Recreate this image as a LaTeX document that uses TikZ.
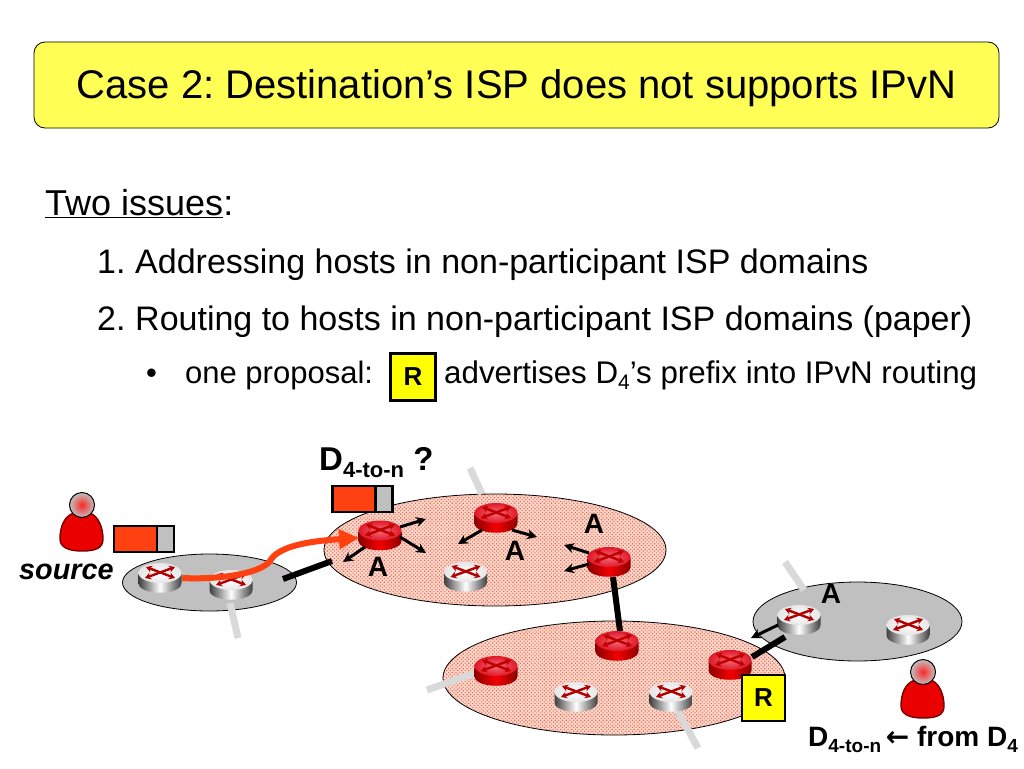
\documentclass[tikz,border=0pt]{standalone}
\usepackage{fontspec}
\setmainfont{Liberation Sans}
\newfontfamily\arw{DejaVu Sans}
\usetikzlibrary{shapes.geometric,arrows.meta,patterns.meta}
\frenchspacing
\definecolor{titleyellow}{HTML}{FFFF55}
\definecolor{rboxyellow}{HTML}{FFFF00}
\definecolor{stubgray}{HTML}{D9D9D9}
\definecolor{netgray}{HTML}{C0C0C0}
\definecolor{pktorange}{HTML}{FF4010}
\definecolor{dotred}{HTML}{E86850}
\definecolor{dotbase}{HTML}{FAD8CC}
\definecolor{rtop}{HTML}{E01828}
\definecolor{rtopin}{HTML}{F46A78}
\newcommand\fs[1]{\fontsize{#1}{#1}\selectfont}
\newcommand\subD[1]{D\raisebox{-0.22em}{\fs{#1}4-to-n}}
\tikzset{
  x=1pt,y=-1pt,
  txt/.style={anchor=base west,inner sep=0pt,text=black},
  netpink/.style={ellipse,inner sep=0pt,draw=black,line width=0.8pt,
    preaction={fill=dotbase},
    pattern={Dots[radius=0.8pt,distance=2.6pt,angle=45,xshift=0pt]},pattern color=dotred},
  netgrey/.style={ellipse,inner sep=0pt,draw=black,line width=0.8pt,fill=netgray},
  stub/.style={line width=7pt,stubgray},
  link/.style={line width=6pt,black},
  adv/.style={line width=3pt,-{Stealth[length=10pt,width=10pt]},black},
  letter/.style={inner sep=0pt,font=\fs{28}\bfseries},
  rbox/.style={draw=black,line width=2.6pt,fill=rboxyellow,inner sep=0pt,font=\fs{26}\bfseries},
  box/.style={inner sep=0pt,minimum width=44pt,minimum height=30pt},
}
\newcommand\routerbase[8]{%
  \node[box] (#1) at (#2,#3) {};
  \begin{scope}[shift={(#2,#3)}]
    \shade[left color=#4,right color=#4,middle color=#5]
      (-21.5,-4) -- (-21.5,5) .. controls (-21.5,18) and (21.5,18) .. (21.5,5) -- (21.5,-4) -- cycle;
    \shade[inner color=#6,outer color=#7] (0,-5) ellipse [x radius=21.5,y radius=10];
    \draw[#8,line width=2.4pt,{Stealth[length=6pt,width=7pt]}-{Stealth[length=6pt,width=7pt]}] (-15,0) -- (15,-11);
    \draw[#8,line width=2.4pt,{Stealth[length=6pt,width=7pt]}-{Stealth[length=6pt,width=7pt]}] (-14,-11) -- (15,0);
  \end{scope}}
\newcommand\silver[3]{\routerbase{#1}{#2}{#3}{black!75}{white}{white}{white!90!black}{red!70!black}}
\newcommand\redr[3]{\routerbase{#1}{#2}{#3}{red!55!black}{red!95!black}{rtopin}{rtop}{red!75!black}}
\newcommand\person[3]{%
  \node[inner sep=0pt,minimum size=24pt] (#1) at (#2,#3) {};
  \begin{scope}[shift={(#2,#3)}]
    \fill[red!92!black,draw=red!45!black,line width=1.4pt]
      (-8,8) .. controls (-18,11) and (-22,22) .. (-22,34)
      .. controls (-22,42) and (-14,46) .. (0,46)
      .. controls (14,46) and (21,43) .. (21,34)
      .. controls (21,22) and (16,11) .. (8,8) -- cycle;
    \shade[inner color=red!85!white,outer color=netgray,draw=black,line width=1pt] (0,0) circle [radius=12.5];
  \end{scope}}
\newcommand\packet[3]{%
  \node[inner sep=0pt,minimum width=1pt] (#1) at (#2,#3) {};
  \begin{scope}[shift={(#2,#3)}]
    \fill[netgray] (0,0) rectangle (60,26);
    \fill[pktorange] (0,0) rectangle (43,26);
    \draw[black,line width=2.4pt] (0,0) rectangle (60,26);
    \draw[black,line width=2.4pt] (43,0) -- (43,26);
  \end{scope}}
\begin{document}
\begin{tikzpicture}
\useasboundingbox (0,0) rectangle (1024,768);
\fill[white] (0,0) rectangle (1024,768);
% title
\node[draw=black,line width=0.8pt,fill=titleyellow,rounded corners=11pt,minimum width=965pt,minimum height=86pt,inner sep=0pt] (title) at (516.5,85) {};
\node[inner sep=0pt,font=\fs{40}] (titletext) at (516.5,88.5) {Case 2: Destination’s ISP does not supports IPvN};
% body text
\node[txt,font=\fs{36}] (issues) at (45,215) {\underline{Two issues}:};
\node[txt,font=\fs{34}] (n1) at (97,273) {1.};
\node[txt,font=\fs{34}] (t1) at (135,273) {Addressing hosts in non-participant ISP domains};
\node[txt,font=\fs{34}] (n2) at (97,330) {2.};
\node[txt,font=\fs{34}] (t2) at (135,330) {Routing to hosts in non-participant ISP domains (paper)};
\node[txt,font=\fs{31}] (b) at (146,383) {•};
\node[txt,font=\fs{31}] (t3) at (185,383) {one proposal:};
\node[rbox,minimum width=45pt,minimum height=47pt] (legendR) at (413,377) {R};
\node[txt,font=\fs{31.3}] (t4) at (444,383) {advertises D\raisebox{-0.22em}{\fs{21}4}’s prefix into IPvN routing};
% networks
\node[netgrey,minimum width=174pt,minimum height=57pt] (netA) at (209.5,582.5) {};
\node[netpink,minimum width=342pt,minimum height=112pt] (netB) at (495,550) {};
\node[netpink,minimum width=342pt,minimum height=114pt] (netC) at (614,678) {};
\node[netgrey,minimum width=209pt,minimum height=79pt] (netD) at (857.5,621.5) {};
% stubs
\coordinate (s1) at (470,468); \coordinate (s1e) at (482,494);
\coordinate (s2) at (230,603); \coordinate (s2e) at (238,638);
\coordinate (s3) at (785,562); \coordinate (s3e) at (804,590);
\coordinate (s4) at (427,690); \coordinate (s4e) at (478,672);
\coordinate (s5) at (676,708); \coordinate (s5e) at (698,748);
\draw[stub] (s1) -- (s1e);
\draw[stub] (s2) -- (s2e);
\draw[stub] (s3) -- (s3e);
\draw[stub] (s4) -- (s4e);
\draw[stub] (s5) -- (s5e);
% links
\coordinate (l1a) at (283,579); \coordinate (l1b) at (332,561);
\coordinate (l2a) at (613,577); \coordinate (l2b) at (620,631);
\coordinate (l3a) at (752,657); \coordinate (l3b) at (785,637);
\draw[link] (l1a) -- (l1b);
\draw[link] (l2a) -- (l2b);
% routers
\silver{a1}{160}{578}
\silver{a2}{231}{585}
\redr{b1}{380}{535.5}
\redr{b2}{496}{518}
\silver{b3}{465.5}{577}
\redr{b4}{609}{562}
\redr{c1}{496}{671}
\silver{c2}{576}{697}
\silver{c3}{671}{697}
\redr{c4}{617}{646}
\redr{c5}{730}{665}
\silver{d1}{799}{620}
\silver{d2}{908}{630}
\draw[link] (l3a) -- (l3b);
% advert arrows
\coordinate (e1) at (426,519); \coordinate (e2) at (426,553); \coordinate (e3) at (343,562);
\coordinate (e4) at (458,544); \coordinate (e5) at (537,537);
\coordinate (e6) at (564,545); \coordinate (e7) at (564,571);
\coordinate (e8) at (751,638);
\draw[adv] (400,527) -- (e1);
\draw[adv] (400,537) -- (e2);
\draw[adv] (365,547) -- (e3);
\draw[adv] (482,530) -- (e4);
\draw[adv] (512,530) -- (e5);
\draw[adv] (589,553) -- (e6);
\draw[adv] (589,564) -- (e7);
\draw[adv] (778,625) -- (e8);
% path of packet
\draw[pktorange,line width=6pt,-{Stealth[length=20pt,width=19pt,inset=0pt]}]
  (a1.east) .. controls (225,580) and (262,572) .. (270,561)
  .. controls (278,546) and (310,541) .. (359,538);
% packets
\packet{p1}{114}{526}
\packet{p2}{332.5}{486}
% persons
\person{src}{82}{505}
\person{dst}{923}{672}
% labels
\node[txt,font=\fs{28.8}\bfseries\itshape] (srclabel) at (19,579) {source};
\node[txt,font=\fs{33}\bfseries] (dq) at (319,470) {\subD{22} ?};
\node[letter] (A1) at (378,567) {A};
\node[letter] (A2) at (515,551) {A};
\node[letter] (A3) at (594,524) {A};
\node[letter] (A4) at (831,594) {A};
\node[rbox,minimum width=43pt,minimum height=46pt] (bigR) at (763.5,698) {R};
\node[txt,font=\fs{28}\bfseries] (dfrom) at (808,746) {\subD{19}\,{\arw ←} from D\raisebox{-0.22em}{\fs{19}4}};
\end{tikzpicture}
\end{document}
